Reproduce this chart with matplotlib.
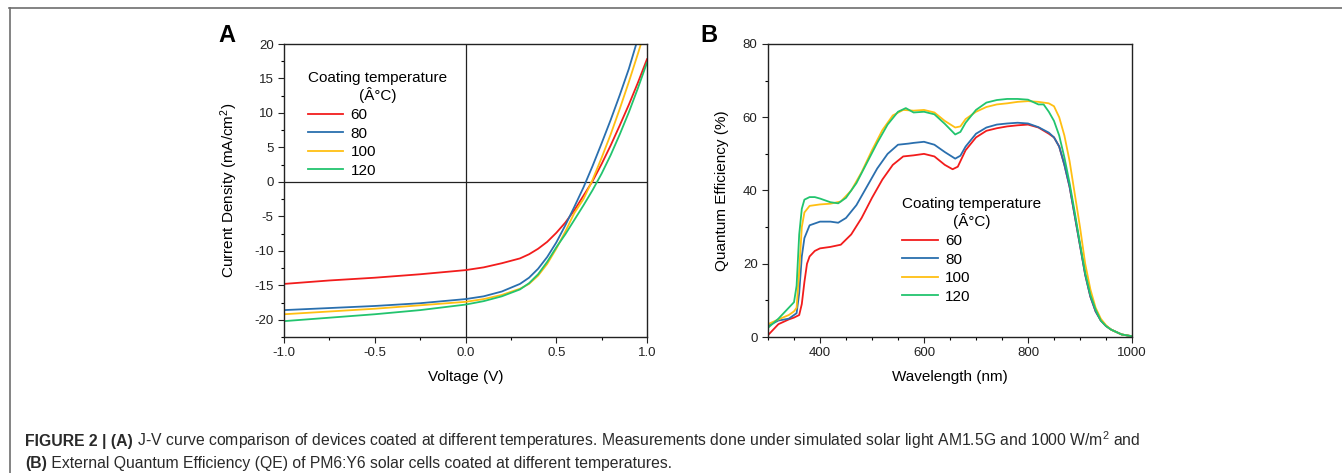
import numpy as np
import matplotlib
matplotlib.use("Agg")
import matplotlib.pyplot as plt
from matplotlib.ticker import MultipleLocator
from matplotlib.lines import Line2D

plt.rcParams['font.family'] = ['Liberation Sans', 'DejaVu Sans']
plt.rcParams['mathtext.fontset'] = 'custom'
plt.rcParams['mathtext.rm'] = 'Liberation Sans'
plt.rcParams['mathtext.it'] = 'Liberation Sans:italic'
plt.rcParams['mathtext.bf'] = 'Liberation Sans:bold'
plt.rcParams['axes.unicode_minus'] = False

temps = ["60", "80", "100", "120"]
colors = ["#f21c1c", "#2a6fae", "#ffbf12", "#22c46e"]

# J-V data (voltage in V, current density in mA/cm2)
v_60 = [-1.0, -0.75, -0.5, -0.25, 0.0, 0.1, 0.2, 0.3, 0.35, 0.4, 0.45, 0.5, 0.55, 0.6, 0.65, 0.7, 0.75, 0.8, 0.85, 0.9, 0.95, 1.0]
j_60 = [-14.8, -14.3, -13.9, -13.4, -12.8, -12.4, -11.8, -11.1, -10.5, -9.7, -8.7, -7.4, -5.9, -4.1, -2.0, 0.1, 2.6, 5.3, 8.2, 11.2, 14.4, 17.8]
v_80 = [-1.0, -0.75, -0.5, -0.25, 0.0, 0.1, 0.2, 0.3, 0.35, 0.4, 0.45, 0.5, 0.55, 0.6, 0.65, 0.7, 0.75, 0.8, 0.85, 0.9, 0.95]
j_80 = [-18.6, -18.3, -18.0, -17.6, -17.0, -16.6, -15.9, -14.8, -13.9, -12.6, -10.9, -8.8, -6.3, -3.6, -0.8, 2.3, 5.6, 9.0, 12.6, 16.4, 20.8]
v_100 = [-1.0, -0.75, -0.5, -0.25, 0.0, 0.1, 0.2, 0.3, 0.35, 0.4, 0.45, 0.5, 0.55, 0.6, 0.65, 0.7, 0.75, 0.8, 0.85, 0.9, 0.95, 0.97]
j_100 = [-19.2, -18.8, -18.4, -17.9, -17.4, -17.0, -16.4, -15.5, -14.8, -13.6, -11.9, -9.7, -7.2, -4.5, -2.5, 0.3, 3.5, 6.9, 10.6, 14.5, 18.6, 20.3]
v_120 = [-1.0, -0.75, -0.5, -0.25, 0.0, 0.1, 0.2, 0.3, 0.35, 0.4, 0.45, 0.5, 0.55, 0.6, 0.65, 0.7, 0.75, 0.8, 0.85, 0.9, 0.95, 1.0]
j_120 = [-20.2, -19.7, -19.2, -18.6, -17.8, -17.3, -16.6, -15.6, -14.7, -13.4, -11.6, -9.5, -7.6, -5.5, -3.4, -1.2, 1.2, 3.9, 6.9, 10.1, 13.6, 17.3]

# EQE data (wavelength in nm, QE in %)
wl_60 = [300, 320, 340, 350, 360, 365, 370, 375, 380, 390, 400, 420, 440, 460, 480, 500, 520, 540, 560, 580, 600, 620, 640, 655, 665, 680, 700, 720, 740, 760, 780, 800, 820, 840, 850, 860, 870, 880, 890, 900, 910, 920, 930, 940, 950, 960, 980, 1000]
qe_60 = [0.5, 3.5, 4.8, 5.3, 6.0, 9.0, 15.0, 20.0, 22.0, 23.5, 24.2, 24.6, 25.2, 28.0, 32.5, 38.0, 43.0, 47.0, 49.3, 49.6, 50.0, 49.3, 47.0, 45.8, 46.5, 51.0, 54.5, 56.3, 57.0, 57.5, 57.8, 58.0, 57.2, 55.5, 54.5, 52.0, 47.0, 41.0, 33.0, 25.0, 17.0, 11.0, 7.0, 4.5, 3.0, 2.0, 0.7, 0.2]
wl_80 = [300, 320, 340, 350, 355, 360, 365, 370, 380, 400, 420, 435, 450, 470, 490, 510, 530, 550, 570, 580, 600, 620, 640, 660, 670, 680, 700, 720, 740, 760, 780, 800, 820, 840, 850, 860, 870, 880, 890, 900, 910, 920, 930, 940, 950, 960, 980, 1000]
qe_80 = [3.0, 4.5, 5.0, 6.0, 6.5, 12.0, 22.0, 27.0, 30.5, 31.5, 31.5, 31.2, 32.5, 36.0, 41.0, 46.0, 50.0, 52.5, 52.8, 53.0, 53.3, 52.5, 50.5, 48.7, 49.5, 52.0, 55.5, 57.2, 58.0, 58.3, 58.5, 58.3, 57.3, 55.8, 54.5, 52.0, 47.0, 41.0, 33.0, 25.0, 17.0, 11.0, 7.0, 4.5, 3.0, 2.0, 0.7, 0.2]
wl_100 = [300, 320, 340, 350, 355, 360, 365, 370, 380, 400, 420, 440, 460, 480, 500, 520, 540, 560, 580, 600, 620, 640, 660, 670, 680, 700, 720, 740, 760, 780, 800, 820, 840, 850, 860, 870, 880, 890, 900, 910, 920, 930, 940, 950, 960, 980, 1000]
qe_100 = [3.5, 4.8, 6.0, 7.0, 8.0, 18.0, 30.0, 34.0, 35.8, 36.2, 36.4, 37.0, 40.0, 45.0, 51.0, 56.5, 60.5, 62.0, 61.8, 62.0, 61.3, 59.0, 57.2, 57.5, 59.5, 61.5, 62.8, 63.5, 63.8, 64.2, 64.4, 64.2, 63.8, 63.0, 60.0, 55.0, 48.0, 39.0, 30.0, 20.0, 13.0, 8.0, 5.0, 3.2, 2.0, 0.7, 0.2]
wl_120 = [300, 320, 340, 350, 355, 360, 365, 370, 380, 390, 400, 420, 435, 450, 470, 490, 510, 530, 550, 565, 580, 600, 620, 640, 660, 670, 680, 700, 720, 740, 760, 780, 800, 820, 830, 840, 850, 860, 870, 880, 890, 900, 910, 920, 930, 940, 950, 960, 980, 1000]
qe_120 = [2.5, 5.0, 8.0, 9.5, 14.0, 28.0, 35.0, 37.5, 38.2, 38.2, 37.8, 36.8, 36.5, 38.0, 42.0, 47.5, 53.0, 58.0, 61.5, 62.5, 61.3, 61.5, 60.8, 58.2, 55.3, 56.0, 58.5, 62.0, 64.0, 64.7, 65.0, 65.0, 64.8, 63.5, 63.5, 61.5, 59.0, 55.0, 49.0, 42.0, 34.0, 25.5, 17.5, 11.5, 7.5, 4.5, 3.0, 2.0, 0.7, 0.2]

jv = [(v_60, j_60), (v_80, j_80), (v_100, j_100), (v_120, j_120)]
eqe = [(wl_60, qe_60), (wl_80, qe_80), (wl_100, qe_100), (wl_120, qe_120)]

W, H = 1342, 473
fig = plt.figure(figsize=(W / 100, H / 100), dpi=100)


def style_axes(ax):
    for s in ax.spines.values():
        s.set_linewidth(1.0)
        s.set_color("#222222")
    ax.tick_params(which="major", direction="out", length=4, width=0.8, labelsize=9.5,
                   colors="#222222", pad=3.5)
    ax.tick_params(which="minor", direction="out", length=2.5, width=0.8)
    ax.tick_params(top=False, right=False)


def add_legend(ax, anchor):
    leg = ax.legend(title="Coating temperature\n(Â°C)", loc="upper left", bbox_to_anchor=anchor,
                    frameon=False, fontsize=11, title_fontsize=11, handlelength=2.3,
                    labelspacing=0.3, handletextpad=0.5, borderpad=0.2)
    leg.get_title().set_multialignment("center")
    leg._legend_box.align = "left"
    return leg


# panel A
axA = fig.add_axes([284 / W, 136 / H, 363 / W, 293 / H])
for (v, j), c, t in zip(jv, colors, temps):
    axA.plot(v, j, color=c, lw=1.3, label=t)
axA.axhline(0, color="#222222", lw=0.9, zorder=0)
axA.axvline(0, color="#222222", lw=0.9, zorder=0)
axA.set_xlim(-1.0, 1.0)
axA.set_ylim(-22.5, 20)
axA.xaxis.set_minor_locator(MultipleLocator(0.25))
axA.yaxis.set_major_locator(MultipleLocator(5))
axA.yaxis.set_minor_locator(MultipleLocator(2.5))
axA.set_xticks([-1.0, -0.5, 0.0, 0.5, 1.0])
axA.set_xticklabels(["-1.0", "-0.5", "0.0", "0.5", "1.0"])
style_axes(axA)
axA.set_xlabel("Voltage (V)", fontsize=11)
axA.set_ylabel("Current Density (mA/cm$^2$)", fontsize=11)
axA.yaxis.set_label_coords(-0.12, 0.5)
axA.xaxis.set_label_coords(0.5, -0.113)
add_legend(axA, (0.036, 0.945))

# panel B
axB = fig.add_axes([768 / W, 136 / H, 364 / W, 293 / H])
for (wl, qe), c, t in zip(eqe, colors, temps):
    axB.plot(wl, qe, color=c, lw=1.3, label=t)
axB.set_xlim(300, 1000)
axB.set_ylim(0, 80)
axB.xaxis.set_major_locator(MultipleLocator(200))
axB.xaxis.set_minor_locator(MultipleLocator(50))
axB.yaxis.set_major_locator(MultipleLocator(20))
axB.yaxis.set_minor_locator(MultipleLocator(10))
style_axes(axB)
axB.set_xlabel("Wavelength (nm)", fontsize=11)
axB.set_ylabel("Quantum Efficiency (%)", fontsize=11)
axB.yaxis.set_label_coords(-0.107, 0.5)
axB.xaxis.set_label_coords(0.5, -0.113)
add_legend(axB, (0.34, 0.515))

# panel letters
fig.text(227 / W, 1 - 35 / H, "A", fontsize=17, fontweight="bold", ha="center", va="center")
fig.text(709 / W, 1 - 35 / H, "B", fontsize=17, fontweight="bold", ha="center", va="center")

# frame
fig.add_artist(Line2D([9 / W, 1.0], [1 - 8.5 / H, 1 - 8.5 / H], color="#6e6e6e", lw=1.2))
fig.add_artist(Line2D([9.5 / W, 9.5 / W], [0, 1 - 8.5 / H], color="#6e6e6e", lw=1.2))

# caption
renderer = fig.canvas.get_renderer()


def caption_line(x, y, parts):
    for txt, bold in parts:
        t = fig.text(x / W, 1 - y / H, txt, fontsize=11.3, color="#2a2a2a",
                     fontweight="bold" if bold else "normal", va="baseline", ha="left")
        bb = t.get_window_extent(renderer)
        x = bb.x1


caption_line(25, 446, [("FIGURE 2 | (A)", True),
                       (" J-V curve comparison of devices coated at different temperatures. Measurements done under simulated solar light AM1.5G and 1000 W/m$^2$ and", False)])
caption_line(25, 468, [("(B)", True),
                       (" External Quantum Efficiency (QE) of PM6:Y6 solar cells coated at different temperatures.", False)])

fig.savefig("out.png", dpi=100)
